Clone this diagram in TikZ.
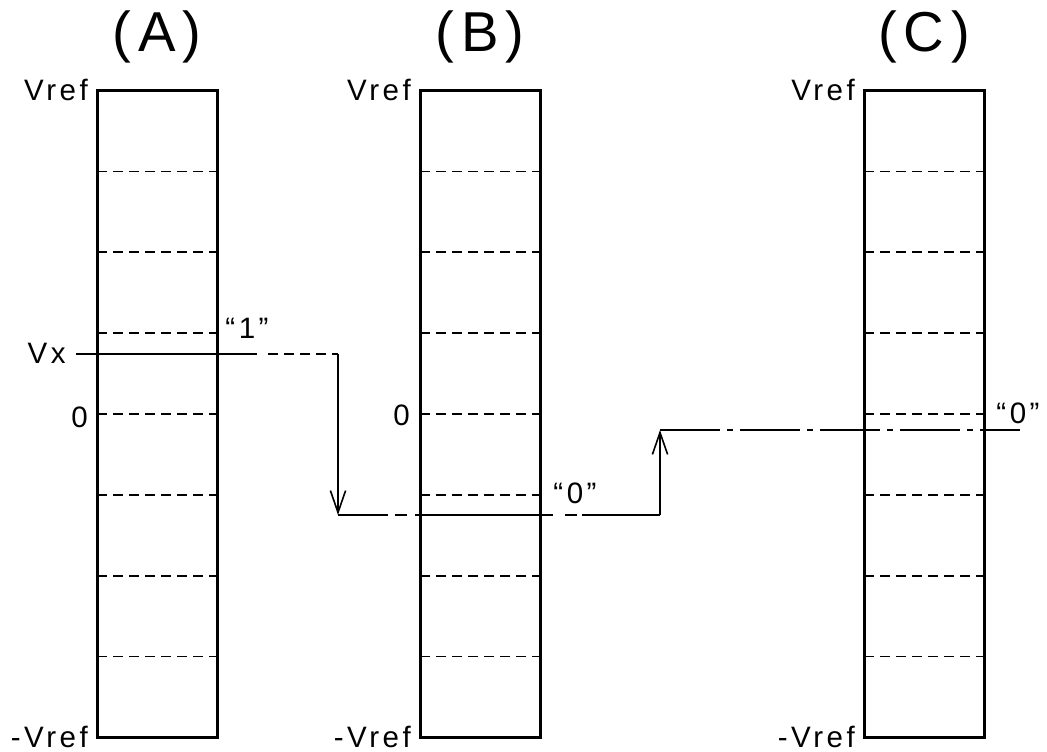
\documentclass[tikz,border=0pt]{standalone}
\usepackage{fontspec}
\setmainfont{Liberation Sans}[LetterSpace=12]
\usepackage{tikz}
\usetikzlibrary{positioning, arrows.meta, calc}

\begin{document}
\begin{tikzpicture}[x=0.25mm, y=-0.25mm,
	bar/.style={draw, line width=0.75mm, minimum width=30mm, minimum height=161.75mm, inner sep=0pt, outer sep=0pt},
	level/.style={line width=0.38mm, dash pattern=on 2.4mm off 1.6mm},
	lbl/.style={inner sep=0pt, font=\fontsize{21}{23}\selectfont},
	ttl/.style={inner sep=0pt, anchor=base, font=\fontsize{40}{42}\selectfont},
	sig/.style={line width=0.4mm},
	dashdot/.style={dash pattern=on 15mm off 1.75mm on 1.5mm off 1.75mm},
	tip/.style={-{Straight Barb[length=5.5mm, width=3.8mm]}}]

	\useasboundingbox (0,0) rectangle (1047,752);

	% the three ranges
	\foreach \name/\x in {A/157, B/480, C/924} {
		\node[bar] (bar\name) at (\x,414) {};
		\foreach \k in {1,...,7}
			\draw[level] ($(bar\name.north west)!\k/8!(bar\name.south west)$) -- ($(bar\name.north east)!\k/8!(bar\name.south east)$);
		\node[ttl] (ttl\name) at ([yshift=9.75mm]bar\name.north) {(\name)};
		\node[lbl, anchor=base east] (top\name) at ([xshift=-2.2mm, yshift=-2.4mm]bar\name.north west) {Vref};
		\node[lbl, anchor=base east] (bot\name) at ([xshift=-2.2mm, yshift=-2.6mm]bar\name.south west) {-Vref};
	}

	\node[lbl, anchor=base east] (vx) at (66,363) {Vx};
	\node[lbl, anchor=base east] (zeroA) at (88,427) {0};
	\node[lbl, anchor=base east] (zeroB) at (410,425) {0};

	% residue path
	\coordinate (vxStart) at (76,354);
	\coordinate (solidEnd) at (257,354);
	\coordinate (dashStart) at (268,354);
	\coordinate (turnA) at (338,354);
	\coordinate (turnB) at (338,515);
	\coordinate (turnC) at (660,515);
	\coordinate (turnD) at (660,430);
	\coordinate (endC) at (1020,430);

	\draw[sig] (vxStart) -- (solidEnd);
	\draw[sig, dash pattern=on 2.5mm off 1.5mm] (dashStart) -- (turnA);
	\draw[sig, tip] (turnA) -- (turnB);
	\draw[sig, dash pattern=on 12.5mm off 1.75mm on 3mm off 2mm on 34.5mm off 3mm on 3mm off 1.25mm on 20mm off 0mm] (turnB) -- (turnC);
	\draw[sig, tip] (turnC) -- (turnD);
	\draw[sig, dashdot] (turnD) -- (endC);

	\node[lbl, anchor=base] (bitA) at (247,338) {“1”};
	\node[lbl, anchor=base] (bitB) at (575,503) {“0”};
	\node[lbl, anchor=base] (bitC) at (1018,423) {“0”};
\end{tikzpicture}
\end{document}
